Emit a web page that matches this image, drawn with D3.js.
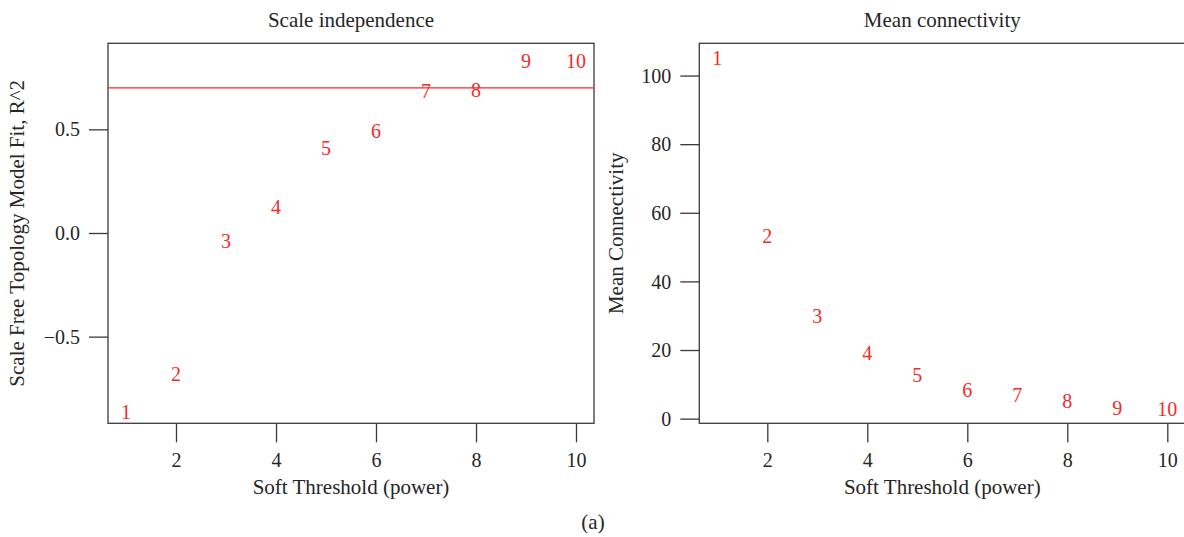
<!DOCTYPE html>
<html>
<head>
<meta charset="utf-8">
<script src="https://cdn.jsdelivr.net/npm/d3@7"></script>
<style>
  html, body { margin: 0; padding: 0; background: #fff; }
  svg { display: block; }
  text { font-family: "Liberation Serif", "DejaVu Serif", serif; }
</style>
</head>
<body>
<svg id="chart" width="1184" height="537"></svg>
<script>
// Soft-threshold power picking: scale-free fit and mean connectivity per power
const powers = [1, 2, 3, 4, 5, 6, 7, 8, 9, 10];
const scaleFitR2 = [-0.866, -0.683, -0.039, 0.123, 0.406, 0.49, 0.684, 0.689, 0.83, 0.83];
const meanConnectivity = [105.1, 53.1, 29.9, 18.9, 12.7, 8.2, 6.7, 5.0, 3.0, 2.8];
const xTicks = [2, 4, 6, 8, 10];
const fitTicks = [-0.5, 0.0, 0.5];
const connTicks = [0, 20, 40, 60, 80, 100];
const fitCutoff = 0.7;

const svg = d3.select("#chart");
const axisColor = "#3a3a3a";
const labelColor = "#262626";
const red = "#f52a2a";
const numSize = 20;   // tick labels and power labels
const textSize = 21;  // titles and axis titles

const plotTop = 43.3, plotBottom = 423.3;

function panel(opts) {
  const g = svg.append("g");
  const x = d3.scaleLinear().domain([0.64, 10.36]).range([opts.left, opts.right]);
  const y = d3.scaleLinear().domain(opts.yDomain).range([plotBottom, plotTop]);

  // x axis
  const xa = g.append("g").attr("transform", `translate(0,${plotBottom})`)
    .call(d3.axisBottom(x).tickValues(xTicks).tickSizeOuter(0).tickSize(19).tickPadding(10)
      .tickFormat(d3.format("d")));
  // y axis
  const ya = g.append("g").attr("transform", `translate(${opts.left},0)`)
    .call(d3.axisLeft(y).tickValues(opts.yTicks).tickSizeOuter(0).tickSize(19).tickPadding(9)
      .tickFormat(opts.fmt));
  [xa, ya].forEach(a => {
    a.select(".domain").remove();
    a.selectAll(".tick line").attr("stroke", axisColor).attr("stroke-width", 1.3);
    a.selectAll(".tick text").attr("fill", labelColor)
      .style("font-size", numSize + "px").style("font-family", "Liberation Serif, serif");
  });
  xa.selectAll(".tick text").attr("dy", "0.75em");
  ya.selectAll(".tick text").attr("dy", "0.33em");

  // plot box
  g.append("rect")
    .attr("x", opts.left).attr("y", plotTop)
    .attr("width", opts.right - opts.left).attr("height", plotBottom - plotTop)
    .attr("fill", "none").attr("stroke", axisColor).attr("stroke-width", 1.3);

  // optional horizontal reference line
  if (opts.hline !== undefined) {
    g.append("line")
      .attr("x1", opts.left).attr("x2", opts.right)
      .attr("y1", y(opts.hline)).attr("y2", y(opts.hline))
      .attr("stroke", red).attr("stroke-width", 1.3);
  }

  // power labels placed at each value
  g.selectAll("text.pt").data(powers).join("text")
    .attr("class", "pt")
    .attr("x", d => x(d))
    .attr("y", (d, i) => y(opts.values[i]))
    .attr("dy", "0.33em")
    .attr("text-anchor", "middle")
    .attr("fill", red)
    .style("font-size", numSize + "px")
    .text(d => d);

  // title
  g.append("text")
    .attr("x", (opts.left + opts.right) / 2).attr("y", 20).attr("dy", "0.33em")
    .attr("text-anchor", "middle").attr("fill", labelColor)
    .style("font-size", textSize + "px").text(opts.title);

  // x axis title
  g.append("text")
    .attr("x", (opts.left + opts.right) / 2).attr("y", 487).attr("dy", "0.33em")
    .attr("text-anchor", "middle").attr("fill", labelColor)
    .style("font-size", textSize + "px").text("Soft Threshold (power)");

  // y axis title
  g.append("text")
    .attr("transform", `translate(${opts.yLabelX},${(plotTop + plotBottom) / 2}) rotate(-90)`)
    .attr("dy", "0.33em")
    .attr("text-anchor", "middle").attr("fill", labelColor)
    .style("font-size", textSize + "px").text(opts.yLabel);
}

panel({
  left: 108, right: 594,
  yDomain: [-0.918, 0.915],
  yTicks: fitTicks,
  fmt: d3.format(".1f"),
  values: scaleFitR2,
  hline: fitCutoff,
  title: "Scale independence",
  yLabel: "Scale Free Topology Model Fit, R^2",
  yLabelX: 17
});

panel({
  left: 699.3, right: 1185.3,
  yDomain: [-1.36, 109.4],
  yTicks: connTicks,
  fmt: d3.format("d"),
  values: meanConnectivity,
  title: "Mean connectivity",
  yLabel: "Mean Connectivity",
  yLabelX: 616
});

// use a true minus sign in negative tick labels
svg.selectAll(".tick text").text(function () { return d3.select(this).text().replace("-", "\u2212"); });

// panel caption
svg.append("text")
  .attr("x", 593).attr("y", 522).attr("dy", "0.33em")
  .attr("text-anchor", "middle").attr("fill", labelColor)
  .style("font-size", textSize + "px").text("(a)");
</script>
</body>
</html>
